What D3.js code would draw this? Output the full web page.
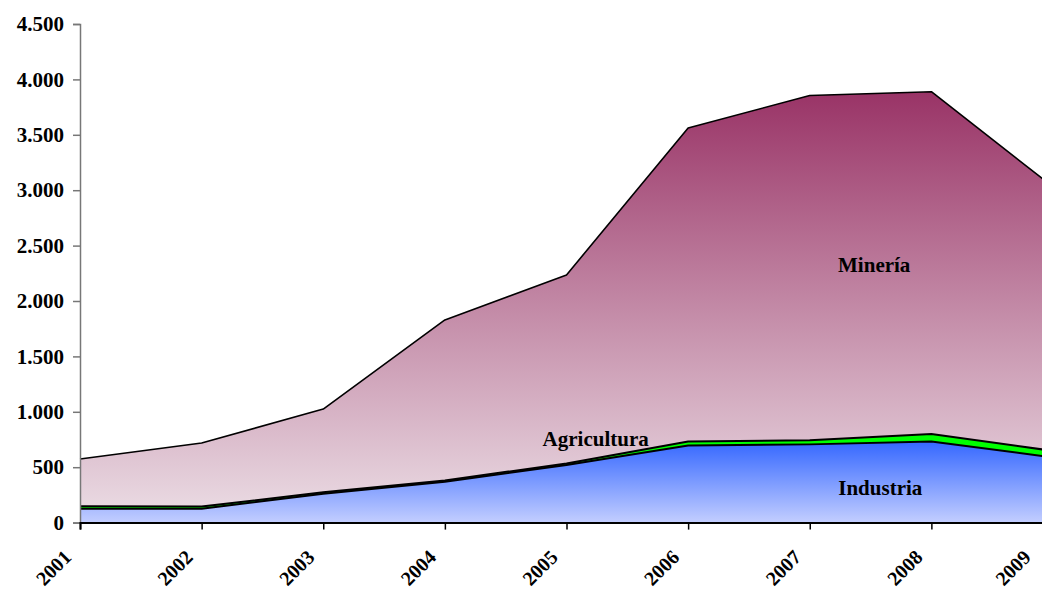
<!DOCTYPE html>
<html>
<head>
<meta charset="utf-8">
<script src="https://cdn.jsdelivr.net/npm/d3@7"></script>
<style>
  body { margin: 0; background: #fff; }
  text { font-family: "Liberation Serif", "Times New Roman", serif; font-weight: bold; }
</style>
</head>
<body>
<script>
// DATA
var years = [2001, 2002, 2003, 2004, 2005, 2006, 2007, 2008, 2009];
var industria   = [125, 125, 260, 368, 520, 695, 706, 733, 588];
var agricultura = [22, 20, 13, 12, 14, 37, 37, 67, 59];
var mineria     = [427, 573, 752, 1449, 1701, 2829, 3112, 3089, 2383];
var yTicks = [0, 500, 1000, 1500, 2000, 2500, 3000, 3500, 4000, 4500];

// SET DIMENSIONS OF CANVAS
var W = 1042, H = 592;
var plotLeft = 80, plotTop = 24, plotBottom = 522.6, plotRight = 1053;

var rows = years.map(function(y, i) {
    return {year: y, Industria: industria[i], Agricultura: agricultura[i], Mineria: mineria[i]};
});
var keys = ["Industria", "Agricultura", "Mineria"];
var series = d3.stack().keys(keys)(rows);

// SET RANGES
var x = d3.scaleLinear().domain([2001, 2009]).range([plotLeft, plotRight]);
var y = d3.scaleLinear().domain([0, 4500]).range([plotBottom, plotTop]);

var svg = d3.select("body").append("svg")
    .attr("width", W)
    .attr("height", H);

var defs = svg.append("defs");

var gMin = defs.append("linearGradient").attr("id", "gMin")
    .attr("gradientUnits", "userSpaceOnUse")
    .attr("x1", 0).attr("x2", 0).attr("y1", y(3900)).attr("y2", plotBottom);
gMin.append("stop").attr("offset", "0%").attr("stop-color", "#993366");
gMin.append("stop").attr("offset", "100%").attr("stop-color", "#ecdfe6");

var gInd = defs.append("linearGradient").attr("id", "gInd")
    .attr("gradientUnits", "userSpaceOnUse")
    .attr("x1", 0).attr("x2", 0).attr("y1", y(740)).attr("y2", plotBottom);
gInd.append("stop").attr("offset", "0%").attr("stop-color", "#3366ff");
gInd.append("stop").attr("offset", "100%").attr("stop-color", "#c3ceff");

var fills = {Industria: "url(#gInd)", Agricultura: "#00ff00", Mineria: "url(#gMin)"};

var area = d3.area()
    .x(function(d) { return x(d.data.year); })
    .y0(function(d) { return y(d[0]); })
    .y1(function(d) { return y(d[1]); });

var topLine = d3.line()
    .x(function(d) { return x(d.data.year); })
    .y(function(d) { return y(d[1]); });

svg.selectAll(".layer")
    .data(series)
  .enter().append("path")
    .attr("class", "layer")
    .attr("d", area)
    .attr("fill", function(d) { return fills[d.key]; });

svg.selectAll(".edge")
    .data(series)
  .enter().append("path")
    .attr("class", "edge")
    .attr("d", topLine)
    .attr("fill", "none")
    .attr("stroke", "#000")
    .attr("stroke-width", function(d) { return d.key === "Mineria" ? 1.6 : 2; })
    .attr("stroke-linejoin", "round");

// DEFINE AXIS
var yAxis = d3.axisLeft(y)
    .tickValues(yTicks)
    .tickSize(7)
    .tickPadding(9)
    .tickFormat(function(d) { return d3.format(",")(d).replace(/,/g, "."); });

var xAxis = d3.axisBottom(x)
    .tickValues(years)
    .tickSize(7)
    .tickFormat(d3.format("d"));

var gy = svg.append("g")
    .attr("transform", "translate(" + plotLeft + ",0)")
    .call(yAxis);
gy.select(".domain").attr("stroke", "#777").attr("stroke-width", 1.5);
gy.selectAll(".tick line").attr("stroke", "#777").attr("stroke-width", 1.5);
gy.selectAll("text").style("font-size", "21px").attr("fill", "#000");

var gx = svg.append("g")
    .attr("transform", "translate(0," + plotBottom + ")")
    .call(xAxis);
gx.select(".domain").attr("stroke", "#000").attr("stroke-width", 2);
gx.selectAll(".tick line").attr("stroke", "#000").attr("stroke-width", 1.5);
gx.selectAll("text")
    .style("font-size", "20px")
    .attr("fill", "#000")
    .attr("text-anchor", "end")
    .attr("transform", "translate(-13,31) rotate(-45)")
    .attr("y", 0)
    .attr("dy", "0.35em");

// keep the last year label inside the picture, like the original does
gx.selectAll(".tick").each(function() {
    var t = d3.select(this).select("text");
    var box = this.getBoundingClientRect();
    var over = box.right - (W - 2);
    if (over > 0) {
        t.attr("transform", "translate(" + (-13 - over) + ",31) rotate(-45)");
    }
});

// SERIES LABELS
var labels = [
    {text: "Minería", year: 2007.53, value: 2264},
    {text: "Agricultura", year: 2005.24, value: 695},
    {text: "Industria", year: 2007.58, value: 249}
];
svg.selectAll(".lbl")
    .data(labels)
  .enter().append("text")
    .attr("class", "lbl")
    .attr("x", function(d) { return x(d.year); })
    .attr("y", function(d) { return y(d.value); })
    .attr("text-anchor", "middle")
    .style("font-size", "21px")
    .text(function(d) { return d.text; });
</script>
</body>
</html>
